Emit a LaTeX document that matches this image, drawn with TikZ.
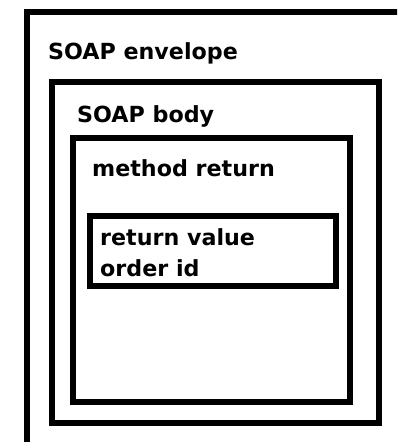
\documentclass[tikz,border=0pt]{standalone}
\usepackage{fontspec}
\setmainfont{DejaVu Sans}
\begin{document}
\begin{tikzpicture}[x=1pt,y=-1pt,
  frame/.style={draw=black,line width=6pt,fill=none},
  label/.style={anchor=base west,inner sep=0pt,font=\bfseries\fontsize{22.2}{31}\selectfont,align=left}]
  \useasboundingbox (0,0) rectangle (397,442);
  \clip (0,0) rectangle (397,442);
  % nested containers
  \draw[frame] (26.5,12) rectangle (420,470);
  \draw[frame] (51.5,81.5) rectangle (379,422.5);
  \draw[frame] (73,137.5) rectangle (350,402);
  \draw[frame] (90,215.5) rectangle (336,286);
  % captions
  \node[label] (env) at (48,59) {SOAP envelope};
  \node[label] (body) at (77,122) {SOAP body};
  \node[label] (meth) at (92,176) {method return};
  \node[label] (ret) at (100,245) {return value};
  \node[label] (oid) at (100,276) {order id};
\end{tikzpicture}
\end{document}
